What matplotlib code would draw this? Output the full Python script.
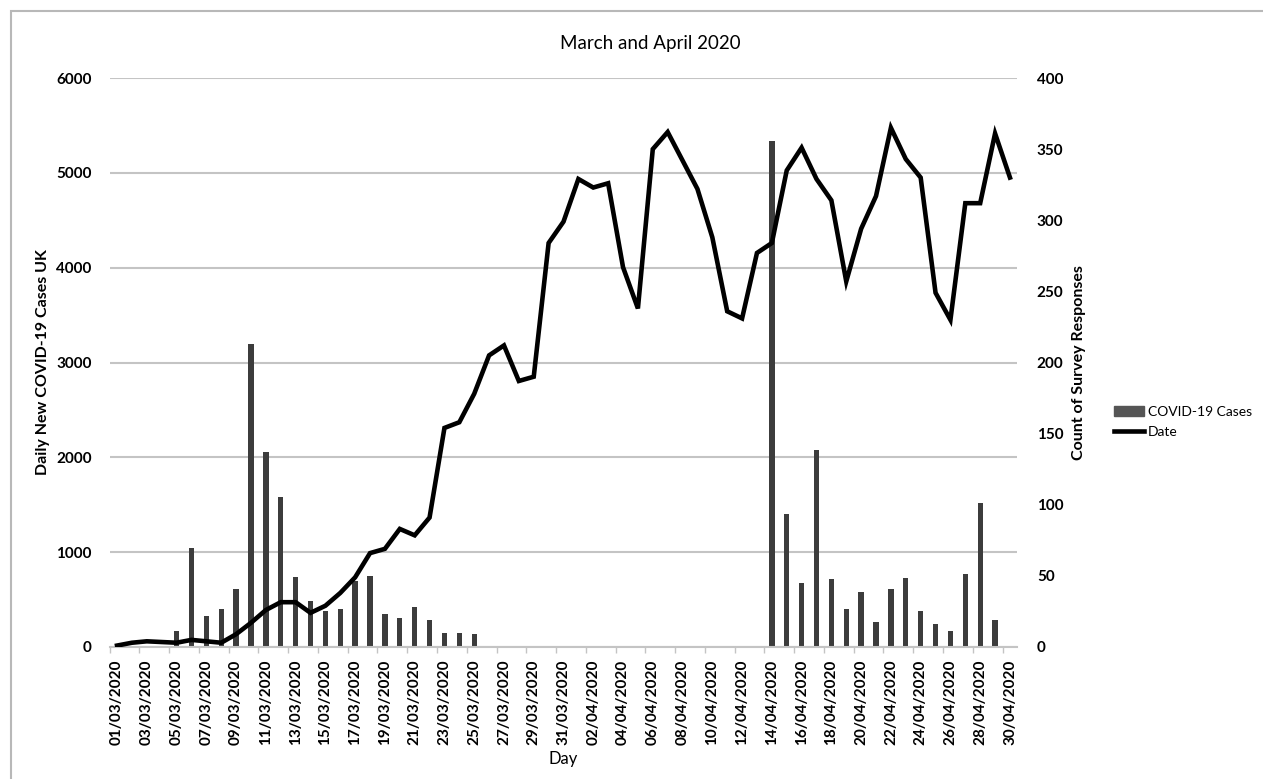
import numpy as np
import pandas as pd
import matplotlib
matplotlib.use("Agg")
import matplotlib.pyplot as plt
from matplotlib.patches import Rectangle, Patch
from matplotlib.lines import Line2D

plt.rcParams['font.family'] = ['Lato', 'DejaVu Sans']

# days of March and April 2020
days = pd.date_range('2020-03-01', '2020-04-30', freq='D')
day_labels = [d.strftime('%d/%m/%Y') for d in days]

# daily new covid-19 cases UK (left axis)
cases = [10, 5, 8, 15, 170, 1040, 330, 405, 615, 3190,
         2060, 1580, 735, 480, 380, 405, 700, 750, 350, 310,
         420, 285, 150, 145, 140, 10, 0, 0, 0, 0,
         0, 0, 0, 0, 0, 0, 0, 0, 0, 0,
         0, 0, 0, 0, 5340, 1405, 680, 2075, 720, 400,
         585, 260, 615, 730, 380, 240, 170, 765, 1515, 285,
         0]

# count of survey responses (right axis)
responses = [1, 3, 4, 3.5, 3, 5, 4, 3, 9, 17,
             26, 31.5, 31.5, 24, 29, 38, 49, 66, 69, 83,
             78.5, 91, 154, 158, 178, 205, 212, 187, 190, 284,
             299, 329, 323, 326, 267, 238, 350, 362, 342, 322,
             288, 236, 231, 277, 284, 335, 351, 329, 314, 257,
             294, 317, 365, 343, 330, 249, 230, 312, 312, 361, 330]

x = np.arange(len(days))

fig = plt.figure(figsize=(12.63, 7.79), dpi=100)
ax = fig.add_axes([109.6/1263, 1 - 647/779, (1017.4 - 109.6)/1263, (647 - 78)/779])
ax2 = ax.twinx()

# outer chart frame
fig.patches.append(Rectangle((11/1263, -0.1), 1.2, 1 - 11/779 + 0.1, transform=fig.transFigure,
                             fill=False, edgecolor='#b8b8b8', linewidth=1.5))

ax.bar(x, cases, width=0.36, color='#3c3c3c', zorder=2)
ax2.plot(x, responses, color='black', linewidth=3.3, solid_joinstyle='miter', zorder=3)

ax.set_xlim(-0.5, len(x) - 0.5)
ax.set_ylim(0, 6000)
ax2.set_ylim(0, 400)
ax.set_yticks(range(0, 6001, 1000))
ax2.set_yticks(range(0, 401, 50))
ax.yaxis.grid(True, color='#c4c4c4', linewidth=1.5, zorder=0)
ax.set_axisbelow(True)

ax.set_xticks(x[::2])
ax.set_xticklabels(day_labels[::2], rotation=90, fontsize=11, fontweight='bold')
ax.set_xticks(np.arange(-0.5, len(x), 2), minor=True)
ax.tick_params(axis='x', which='major', length=0, pad=9)
ax.tick_params(axis='x', which='minor', length=4, color='#c4c4c4', width=1)
ax.tick_params(axis='y', length=0, labelsize=11, pad=13)
ax2.tick_params(axis='y', length=0, labelsize=11, pad=14)
for lab in ax.get_yticklabels() + ax2.get_yticklabels():
    lab.set_fontweight('bold')

for s in ['top', 'left', 'right']:
    ax.spines[s].set_visible(False)
    ax2.spines[s].set_visible(False)
ax.spines['bottom'].set_color('#c4c4c4')
ax.spines['bottom'].set_linewidth(1.5)
ax2.spines['bottom'].set_visible(False)

ax.set_xlabel('Day', fontsize=12, labelpad=4)
ax.set_ylabel('Daily New COVID-19 Cases UK', fontsize=11.5, fontweight='bold', labelpad=4)
ax2.set_ylabel('Count of Survey Responses', fontsize=11.5, fontweight='bold', labelpad=6)
fig.text(650/1263, 1 - 44/779, 'March and April 2020', fontsize=13.5,
         ha='center', va='center')

handles = [Patch(facecolor='#555555', edgecolor='#555555'),
           Line2D([0], [0], color='black', linewidth=3.3)]
fig.legend(handles, ['COVID-19 Cases', 'Date'], loc='center left',
           bbox_to_anchor=(1104/1263, 1 - 422/779), frameon=False, fontsize=10,
           handlelength=2.2, handletextpad=0.25, labelspacing=0.6, borderpad=0.2)

fig.savefig('out.png', dpi=100)
